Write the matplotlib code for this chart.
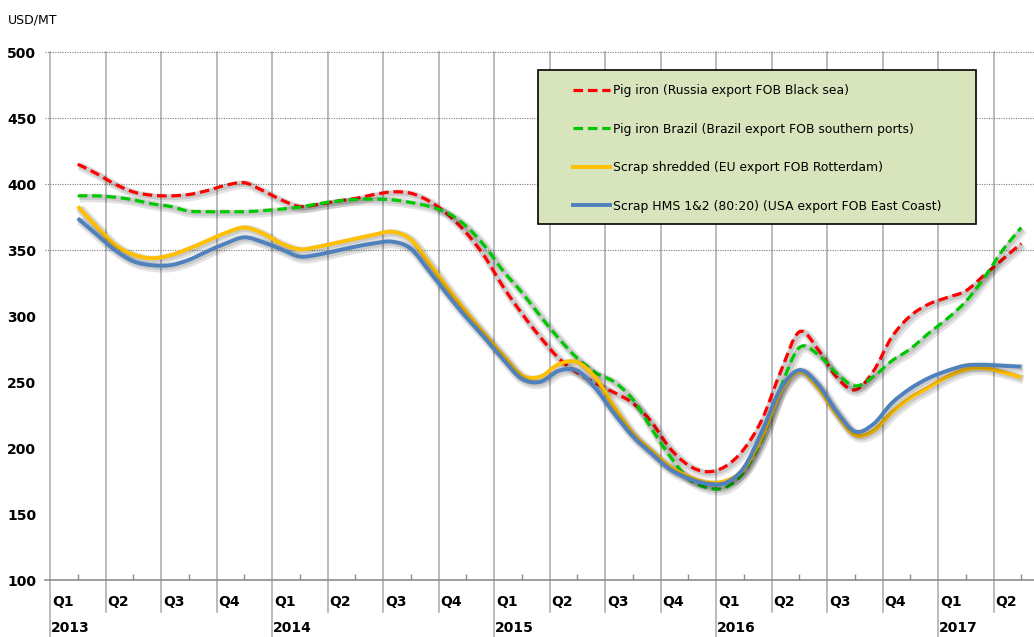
import matplotlib
matplotlib.use("Agg")
import matplotlib.pyplot as plt
import matplotlib.patheffects as pe
from matplotlib.patches import Rectangle, PathPatch
from matplotlib.path import Path
from matplotlib.ticker import FixedLocator
import matplotlib.transforms as mtransforms

# monthly values, Feb 2013 .. May 2017 (USD/MT)
pig_russia = [415, 408, 400, 394, 391.5, 391, 392, 395, 399, 401,
              395, 388, 383, 384.5, 387, 389, 392, 394, 393, 387,
              377, 363, 345, 322, 302, 284, 268, 257, 249, 242,
              234, 220, 200, 187, 182, 186, 199, 222, 258, 288,
              275, 254, 244, 258, 284, 300, 309, 314, 319, 331,
              343, 355]
pig_brazil = [391, 391, 390, 388, 385, 383, 379.5, 379, 379, 379,
              379.8, 381, 382.5, 385, 387, 388.3, 388.5, 388, 386, 383,
              378, 368, 353, 334, 318, 300, 283, 268, 257, 250,
              237, 215, 194, 177, 170, 170, 182, 207, 246, 276,
              271, 257, 247, 254, 266, 275, 287, 298, 311, 329,
              350, 367]
scrap_eu = [383, 368, 354, 346.5, 343.8, 346, 351, 357, 363, 367,
            362.6, 355, 350.5, 352.5, 355.5, 358.5, 361.5, 363.8, 358, 340,
            321, 303, 286, 270, 255, 254, 263.5, 265, 253, 231,
            211, 198, 186, 178.5, 174, 175, 184, 209, 243, 258,
            246, 226, 210, 213, 227, 238, 246, 254, 259.5, 260.5,
            257.5, 253.5]
scrap_usa = [374, 362, 350, 341.5, 338.5, 338.5, 342.5, 349, 355, 359.6,
             356, 350.5, 345, 346.5, 349.5, 352.5, 355, 356.3, 351, 334,
             316, 299, 283.5, 267, 252.5, 250.2, 258.5, 258.5, 245, 226,
             209, 196, 184, 177, 173, 173.5, 185, 213, 245, 259,
             248.5, 228, 212.5, 218, 234, 245, 253, 258.5, 262.5, 263,
             262.3, 261.6]

quarters = ["Q1", "Q2", "Q3", "Q4"]
years = ["2013", "2014", "2015", "2016", "2017"]
y_ticks = [100, 150, 200, 250, 300, 350, 400, 450, 500]

labels = ["Pig iron (Russia export FOB Black sea)",
          "Pig iron Brazil (Brazil export FOB southern ports)",
          "Scrap shredded (EU export FOB Rotterdam)",
          "Scrap HMS 1&2 (80:20) (USA export FOB East Coast)"]

# x = months since Jan 2013, centre of each month
months = [1.5 + i for i in range(len(pig_russia))]

fig = plt.figure(figsize=(10.34, 6.37), dpi=100)
ax = fig.add_axes([50 / 1034, 57 / 637, 984 / 1034, 528 / 637])
xmax = 984 / 18.5
ax.set_xlim(0, xmax)
ax.set_ylim(100, 500)

for s in ax.spines.values():
    s.set_visible(False)

# grid
grid_col = "#a8a8a8"
trans = mtransforms.blended_transform_factory(ax.transData, ax.transAxes)
for k in range(18):
    m = 3 * k
    bottom = -0.108 if k % 4 == 0 else -0.06
    ax.plot([m, m], [bottom, 1], color=grid_col, lw=1.1, transform=trans,
            clip_on=False, zorder=1)
for v in [350, 400, 450, 500]:
    ax.plot([-0.27, xmax], [v, v], color="#7f7f7f", lw=0.8,
            linestyle=(0, (1, 1.2)), clip_on=False, zorder=1)
ax.plot([-0.27, xmax], [100, 100], color="#8c8c8c", lw=1.2, clip_on=False,
        zorder=2)

ax.set_yticks(y_ticks)
ax.set_yticklabels([str(v) for v in y_ticks], fontweight="bold", fontsize=10)
ax.tick_params(axis="y", length=0, pad=10)
ax.set_xticks([])
ax.xaxis.set_minor_locator(FixedLocator([1.5 + 3 * k for k in range(18)]))
ax.tick_params(axis="x", which="minor", direction="in", length=4,
               color="#8c8c8c", width=1)

for k in range(18):
    ax.text(3 * k + 0.12, -0.042, quarters[k % 4], transform=trans,
            fontsize=10, fontweight="bold", ha="left", va="center")
for k, yr in enumerate(years):
    ax.text(12 * k + 0.05, -0.091, yr, transform=trans,
            fontsize=10, fontweight="bold", ha="left", va="center")

fig.text(8 / 1034, 1 - 20 / 637, "USD/MT", fontsize=9, va="center", ha="left")

solid = {"dash_offset": 0, "dash_list": None}

def shadow(lw):
    return [pe.SimpleLineShadow(offset=(1.5, -1.5), shadow_color="#000000",
                                alpha=0.11, linewidth=lw + 4, dashes=solid),
            pe.SimpleLineShadow(offset=(1, -1), shadow_color="#000000",
                                alpha=0.11, linewidth=lw + 1.5, dashes=solid),
            pe.Normal()]

def smooth_path(xs, ys):
    # Excel-style smoothed line: cubic Bezier through every data point
    n = len(xs)
    verts = [(xs[0], ys[0])]
    codes = [Path.MOVETO]
    for i in range(n - 1):
        i0, i2 = max(i - 1, 0), min(i + 2, n - 1)
        c1 = (xs[i] + (xs[i + 1] - xs[i0]) / 6, ys[i] + (ys[i + 1] - ys[i0]) / 6)
        c2 = (xs[i + 1] - (xs[i2] - xs[i]) / 6, ys[i + 1] - (ys[i2] - ys[i]) / 6)
        verts += [c1, c2, (xs[i + 1], ys[i + 1])]
        codes += [Path.CURVE4] * 3
    return Path(verts, codes)

series = [(pig_russia, "#ff0000", (0, (3.0, 1.5)), 2.3),
          (pig_brazil, "#00c800", (0, (3.0, 1.5)), 2.3),
          (scrap_eu, "#ffc000", "-", 2.8),
          (scrap_usa, "#4f81bd", "-", 2.8)]
leg_lines = []
for (vals, col, ls, lw), lab in zip(series, labels):
    patch = PathPatch(smooth_path(months, vals), facecolor="none", edgecolor=col,
                      linestyle=ls, lw=lw, joinstyle="round", capstyle="butt",
                      path_effects=shadow(lw), zorder=3)
    ax.add_patch(patch)
    leg_lines.append(plt.Line2D([], [], color=col, linestyle=ls, lw=lw))

fig.patches.append(Rectangle((538 / 1034, 1 - 224 / 637), 438 / 1034, 154 / 637,
                             transform=fig.transFigure, facecolor="#d8e4bc",
                             edgecolor="black", lw=1.2, zorder=5))
leg = fig.legend(leg_lines, labels, loc="upper left",
                 bbox_to_anchor=(573 / 1034, 1 - 84 / 637),
                 bbox_transform=fig.transFigure, frameon=False, fontsize=8.9,
                 handlelength=3.0, handletextpad=0.25, labelspacing=2.07,
                 borderpad=0, borderaxespad=0)
leg.set_zorder(6)

fig.savefig("out.png", dpi=100)
